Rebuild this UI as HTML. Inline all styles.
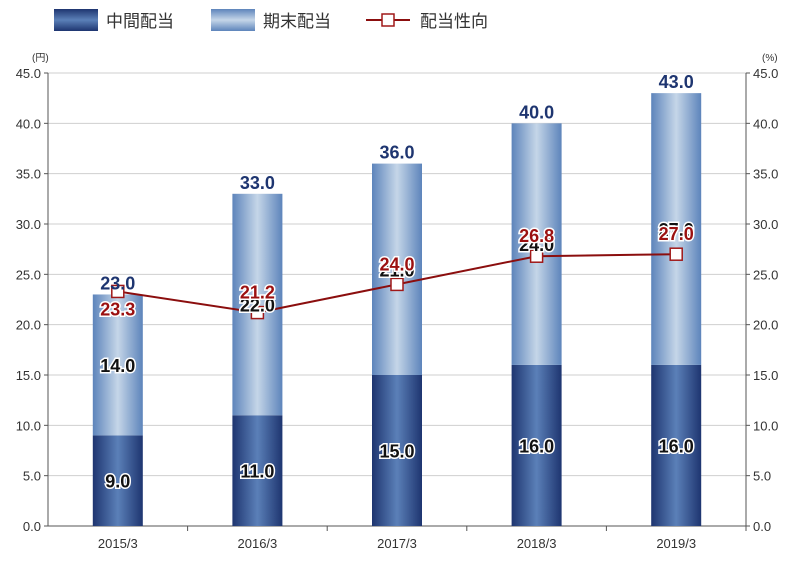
<!DOCTYPE html>
<html><head><meta charset="utf-8"><style>
body{margin:0;background:#fff;}
svg text{font-family:"Liberation Sans","Noto Sans CJK JP",sans-serif;}
</style></head><body>
<svg width="800" height="560" viewBox="0 0 800 560">
<defs>
<linearGradient id="gDark" x1="0" x2="1" y1="0" y2="0">
<stop offset="0" stop-color="#1e3570"/><stop offset="0.5" stop-color="#5b80b8"/><stop offset="1" stop-color="#1e3570"/></linearGradient>
<linearGradient id="gLight" x1="0" x2="1" y1="0" y2="0">
<stop offset="0" stop-color="#5d84bb"/><stop offset="0.5" stop-color="#c5d6e8"/><stop offset="1" stop-color="#5d84bb"/></linearGradient>
<linearGradient id="lDark" x1="0" x2="0" y1="0" y2="1">
<stop offset="0" stop-color="#1e3570"/><stop offset="0.5" stop-color="#5b80b8"/><stop offset="1" stop-color="#1e3570"/></linearGradient>
<linearGradient id="lLight" x1="0" x2="0" y1="0" y2="1">
<stop offset="0" stop-color="#5d84bb"/><stop offset="0.5" stop-color="#c5d6e8"/><stop offset="1" stop-color="#5d84bb"/></linearGradient>
</defs>
<g>
<rect x="54" y="9" width="44" height="22" fill="url(#lDark)"/>
<text x="106" y="27" font-size="17" fill="#333">中間配当</text>
<rect x="211" y="9" width="44" height="22" fill="url(#lLight)"/>
<text x="263" y="27" font-size="17" fill="#333">期末配当</text>
<line x1="366" y1="20" x2="410" y2="20" stroke="#8b0e0e" stroke-width="2"/>
<rect x="382" y="14" width="12" height="12" fill="#fff" stroke="#a01818" stroke-width="1.5"/>
<text x="420" y="27" font-size="17" fill="#333">配当性向</text>
</g>
<text x="32" y="61" font-size="10" fill="#333">(円)</text>
<text x="762" y="61" font-size="10" fill="#333">(%)</text>
<g id="grid"></g><g id="bars"></g><g id="line"></g><g id="labels"></g>
</svg>
<script>
const categories=["2015/3","2016/3","2017/3","2018/3","2019/3"];
const interim=[9.0,11.0,15.0,16.0,16.0];
const finalDiv=[14.0,22.0,21.0,24.0,27.0];
const payout=[23.3,21.2,24.0,26.8,27.0];
const ticks=[0,5,10,15,20,25,30,35,40,45];
const NS="http://www.w3.org/2000/svg";
const X0=48,X1=746,Y0=526,Y1=73,MAX=45;
const y=v=>Y0-(v/MAX)*(Y0-Y1);
const step=(X1-X0)/categories.length;
const xc=i=>X0+step*(i+0.5);
function mk(t,a,p,txt){const e=document.createElementNS(NS,t);for(const k in a)e.setAttribute(k,a[k]);if(txt!==undefined)e.textContent=txt;p.appendChild(e);return e;}
const grid=document.getElementById('grid'),bars=document.getElementById('bars'),line=document.getElementById('line'),labels=document.getElementById('labels');
ticks.forEach(t=>{
 if(t>0){const g=mk('line',{x1:X0,x2:X1,y1:y(t),y2:y(t),stroke:'#cfcfcf','stroke-width':1},grid);
 
 }
 const l=mk('text',{x:X0-7,y:y(t)+5,'font-size':13,fill:'#333','text-anchor':'end'},grid,t.toFixed(1));
 
 
 const r=mk('text',{x:X1+7,y:y(t)+5,'font-size':13,fill:'#333'},grid,t.toFixed(1));
 
 
 mk('line',{x1:X0-4,x2:X0,y1:y(t),y2:y(t),stroke:'#555'},grid);
 mk('line',{x1:X1,x2:X1+4,y1:y(t),y2:y(t),stroke:'#555'},grid);
});
mk('line',{x1:X0,x2:X0,y1:Y1,y2:Y0,stroke:'#555'},grid);
mk('line',{x1:X1,x2:X1,y1:Y1,y2:Y0,stroke:'#555'},grid);
mk('line',{x1:X0,x2:X1,y1:Y0,y2:Y0,stroke:'#555'},grid);
const BW=50;
categories.forEach((c,i)=>{
 const cx=xc(i);
 const tx=mk('text',{x:cx,y:Y0+22,'font-size':13,fill:'#333','text-anchor':'middle'},grid,c);
 
 
 mk('line',{x1:X0+step*(i+1),x2:X0+step*(i+1),y1:Y0,y2:Y0+5,stroke:'#555'},grid);
 const b1=mk('rect',{x:cx-BW/2,y:y(interim[i]),width:BW,height:Y0-y(interim[i]),fill:'url(#gDark)'},bars);
 
 
 const tot=interim[i]+finalDiv[i];
 const b2=mk('rect',{x:cx-BW/2,y:y(tot),width:BW,height:y(interim[i])-y(tot),fill:'url(#gLight)'},bars);
 
 
 const st={'font-size':18,'font-weight':'bold','text-anchor':'middle',fill:'#111',stroke:'#fff','stroke-width':3,'paint-order':'stroke'};
 const l1=mk('text',Object.assign({x:cx,y:(Y0+y(interim[i]))/2+7},st),labels,interim[i].toFixed(1));
 
 
 const l2=mk('text',Object.assign({x:cx,y:(y(interim[i])+y(tot))/2+7},st),labels,finalDiv[i].toFixed(1));
 
 
 const l3=mk('text',{x:cx,y:y(tot)-5,'font-size':18,'font-weight':'bold','text-anchor':'middle',fill:'#1e3570'},labels,tot.toFixed(1));
 
 
});
const pts=payout.map((v,i)=>xc(i)+','+y(v)).join(' ');
const pl=mk('polyline',{points:pts,fill:'none',stroke:'#8b0e0e','stroke-width':2},line);


payout.forEach((v,i)=>{
 const m=mk('rect',{x:xc(i)-6,y:y(v)-6,width:12,height:12,fill:'#fff',stroke:'#a01818','stroke-width':1.5},line);
 
 
 const ly=i===0?y(v)+24:y(v)-14;
 const t=mk('text',{x:xc(i),y:ly,'font-size':18,'font-weight':'bold','text-anchor':'middle',fill:'#9b1010',stroke:'#fff','stroke-width':3,'paint-order':'stroke'},labels,v.toFixed(1));
 
 
});
</script>
</body></html>
